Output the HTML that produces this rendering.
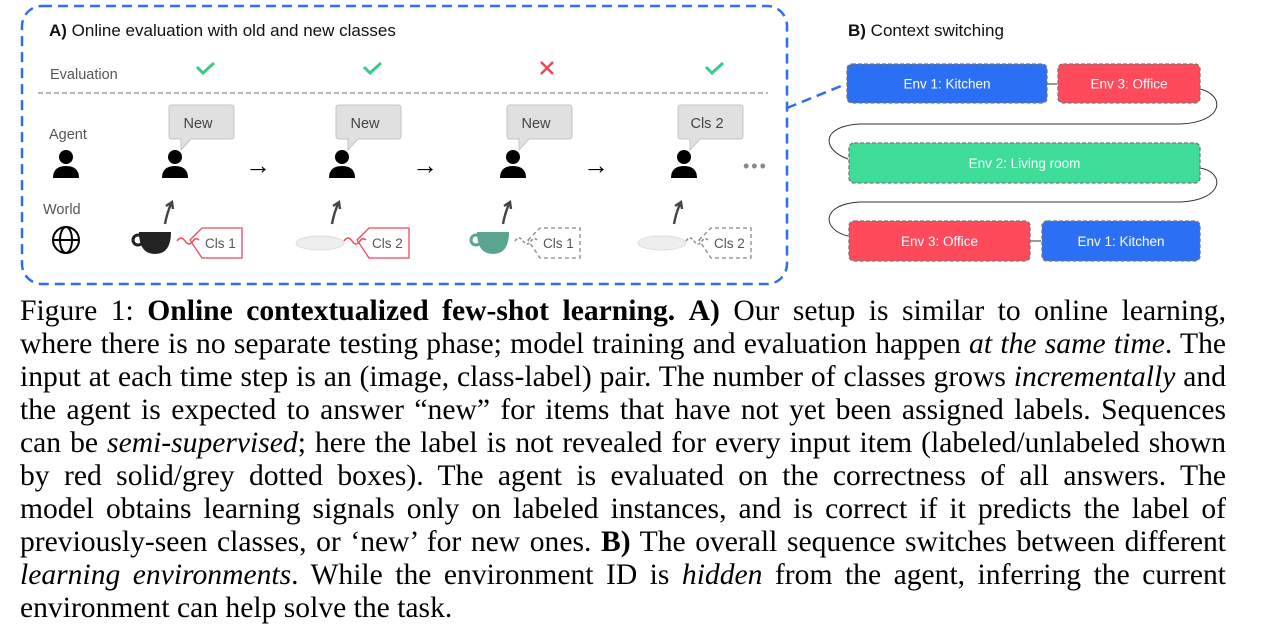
<!DOCTYPE html>
<html><head><meta charset="utf-8"><style>
body{margin:0;width:1281px;height:622px;background:#fff;overflow:hidden;position:relative;font-family:"Liberation Sans",sans-serif}
svg{position:absolute;left:0;top:0}
.cap{position:absolute;left:20px;width:1206px;font-family:"Liberation Serif",serif;font-size:29.6px;line-height:33px;color:#000}
.ln{display:block;text-align:justify;text-align-last:justify;white-space:nowrap;height:33px;word-spacing:-1px}
.ln.last{text-align-last:left;word-spacing:0}
</style></head><body>
<svg width="1281" height="290">
<rect x="22" y="6" width="765" height="278" rx="20" fill="none" stroke="#2f6fef" stroke-width="2.5" stroke-dasharray="10,6"/>
<line x1="787" y1="108" x2="846" y2="84" stroke="#2f6fef" stroke-width="2.5" stroke-dasharray="10,6"/>
<text x="49" y="36" font-size="17" fill="#111"><tspan font-weight="bold">A)</tspan> Online evaluation with old and new classes</text>
<text x="50" y="79" font-size="14.5" fill="#555">Evaluation</text>
<line x1="38" y1="93" x2="768" y2="93" stroke="#888" stroke-width="1.2" stroke-dasharray="5,3"/>
<text x="49" y="139" font-size="14.5" fill="#555">Agent</text>
<text x="43" y="214" font-size="14.5" fill="#555">World</text>
<g fill="none" stroke="#000" stroke-width="2">
<circle cx="66" cy="240" r="13"/><ellipse cx="66" cy="240" rx="6" ry="13"/><line x1="53" y1="240" x2="79" y2="240"/></g>
<g fill="#000"><circle cx="66" cy="157" r="7"/><path d="M53 178 Q53 166 66 166 Q79 166 79 178 Z"/></g>
<g id="steps"></g>
<text x="743" y="172" font-size="18" fill="#888" letter-spacing="2">•••</text>
<text x="848" y="36" font-size="17" fill="#111"><tspan font-weight="bold">B)</tspan> Context switching</text>
<g stroke="#333" fill="none" stroke-width="1">
<line x1="1047" y1="84" x2="1057" y2="84"/>
<path d="M1200 89 C1225 95 1225 122 1180 124 L860 124 C820 126 822 150 848 159"/>
<path d="M1200 168 C1225 172 1225 200 1180 202 L860 202 C820 204 822 230 848 236"/>
<line x1="1030" y1="241" x2="1041" y2="241"/></g>
<g id="envs"></g>
</svg>
<div class="cap" style="top:295px">
<span class="ln">Figure 1: <b>Online contextualized few-shot learning.</b> <b>A)</b> Our setup is similar to online learning,</span>
<span class="ln">where there is no separate testing phase; model training and evaluation happen <i>at the same time</i>. The</span>
<span class="ln">input at each time step is an (image, class-label) pair. The number of classes grows <i>incrementally</i> and</span>
<span class="ln">the agent is expected to answer “new” for items that have not yet been assigned labels. Sequences</span>
<span class="ln">can be <i>semi-supervised</i>; here the label is not revealed for every input item (labeled/unlabeled shown</span>
<span class="ln">by red solid/grey dotted boxes). The agent is evaluated on the correctness of all answers. The</span>
<span class="ln">model obtains learning signals only on labeled instances, and is correct if it predicts the label of</span>
<span class="ln">previously-seen classes, or ‘new’ for new ones. <b>B)</b> The overall sequence switches between different</span>
<span class="ln"><i>learning environments</i>. While the environment ID is <i>hidden</i> from the agent, inferring the current</span>
<span class="ln last">environment can help solve the task.</span>
</div>
<script>
const NS="http://www.w3.org/2000/svg";
const stepX=[175,342,513,684];
const answers=["New","New","New","Cls 2"];
const correct=[true,true,false,true];
const labels=["Cls 1","Cls 2","Cls 1","Cls 2"];
const labeled=[true,true,false,false];
const objects=["cup-black","plate","cup-green","plate"];
const envNames=["Env 1: Kitchen","Env 3: Office","Env 2: Living room","Env 3: Office","Env 1: Kitchen"];
const envColors=["#2b6ff5","#ff4a5c","#3ddc97","#ff4a5c","#2b6ff5"];
const envBoxes=[[847,64,200,39],[1058,64,142,39],[849,143,351,40],[849,221,181,40],[1042,221,158,40]];
function mk(t,a,p){const e=document.createElementNS(NS,t);for(const k in a)e.setAttribute(k,a[k]);p.appendChild(e);return e;}
const g=document.getElementById('steps');
stepX.forEach((x,i)=>{
 const s=mk('g',{},g);
 
 
 if(correct[i]) mk('path',{d:`M${x+22} 67 l6 6 l11 -10`,stroke:'#3dc98a','stroke-width':3,fill:'none'},s);
 else mk('path',{d:`M${x+28} 62 l12 12 M${x+40} 62 l-12 12`,stroke:'#e84a5a','stroke-width':2.6,fill:'none'},s);
 mk('path',{d:`M${x-6} 108 q0 -3 3 -3 h59 q3 0 3 3 v28 q0 3 -3 3 h-40 l-10 11 v-11 h-9 q-3 0 -3 -3 z`,fill:'#e0e0e0',stroke:'#c4c4c4'},s);
 const t=mk('text',{x:x+23,y:128,'font-size':14.5,fill:'#444','text-anchor':'middle'},s);t.textContent=answers[i];
 mk('circle',{cx:x,cy:157,r:7},s);
 mk('path',{d:`M${x-13} 178 Q${x-13} 166 ${x} 166 Q${x+13} 166 ${x+13} 178 Z`},s);
 mk('path',{d:`M${x-10} 224 Q${x-8} 213 ${x-4} 204 M${x-9} 206 l6 -4 l1 7`,stroke:'#444','stroke-width':2.4,fill:'none'},s);
 if(i<3){const a=mk('text',{x:x+83,y:174,'font-size':26,fill:'#000','text-anchor':'middle'},s);a.textContent='→';}
 const o=objects[i];
 if(o==='plate') mk('ellipse',{cx:x-22,cy:243,rx:24,ry:7,fill:'#eee',stroke:'#ddd'},s);
 else{const c=o==='cup-black'?'#222':'#5aa58f';mk('path',{d:`M${x-36} 232 h32 q0 22 -16 22 q-16 0 -16 -22 z`,fill:c},s);mk('circle',{cx:x-37,cy:240,r:5,fill:'none',stroke:c,'stroke-width':3},s);}
 const col=labeled[i]?'#f0485a':'#888';
 mk('path',{d:`M${x+15} 240 l12 -12 h40 v30 h-40 z`,fill:'#fff',stroke:col,'stroke-width':1.3,'stroke-dasharray':labeled[i]?'none':'4,3'},s);
 mk('path',{d:`M${x+2} 241 q4 -6 8 0 q4 6 8 0 q3 -4 6 -1`,stroke:col,'stroke-width':1.5,fill:'none','stroke-dasharray':labeled[i]?'none':'3,2'},s);
 const l=mk('text',{x:x+30,y:248,'font-size':13.5,fill:'#555'},s);l.textContent=labels[i];
});
const eg=document.getElementById('envs');
envNames.forEach((n,i)=>{
 const b=envBoxes[i];
 const r=mk('rect',{x:b[0],y:b[1],width:b[2],height:b[3],rx:5,fill:envColors[i],stroke:'#777','stroke-width':1.3,'stroke-dasharray':'4,2'},eg);
 
 
 const t=mk('text',{x:b[0]+b[2]/2,y:b[1]+b[3]/2+5,'font-size':13.5,fill:'#fff','text-anchor':'middle'},eg);t.textContent=n;
});
</script>
</body></html>
